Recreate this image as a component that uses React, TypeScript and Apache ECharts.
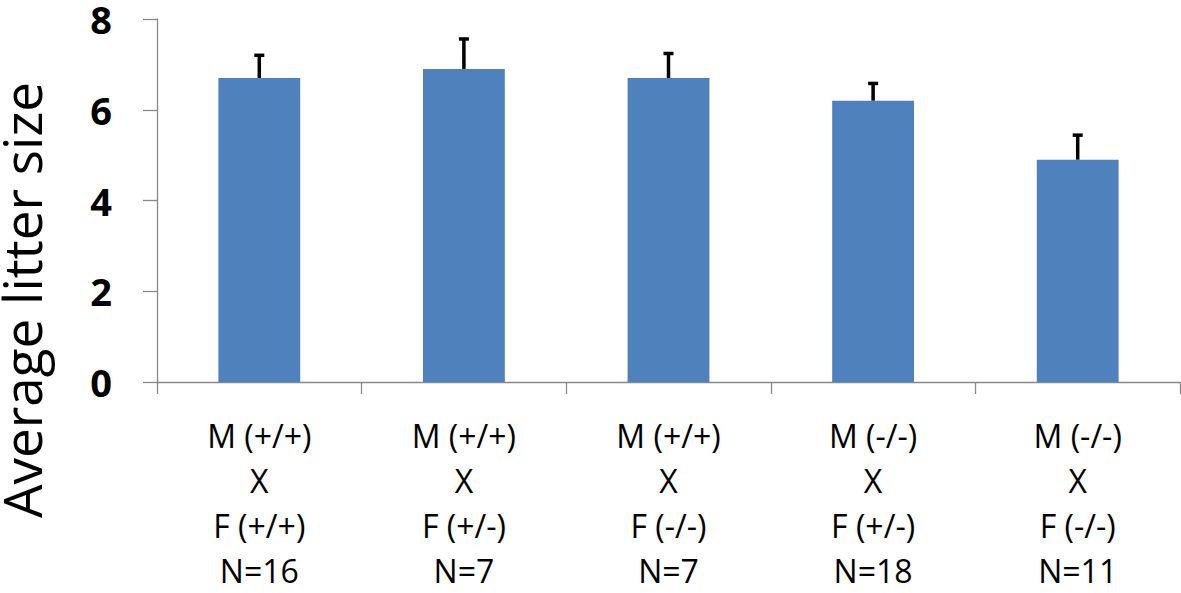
import React, { useEffect, useRef } from "react";
import * as echarts from "echarts";

const males = ["M (+/+)", "M (+/+)", "M (+/+)", "M (-/-)", "M (-/-)"];
const females = ["F (+/+)", "F (+/-)", "F (-/-)", "F (+/-)", "F (-/-)"];
const counts = [16, 7, 7, 18, 11];
const means = [6.7, 6.9, 6.7, 6.2, 4.9];
const errors = [0.5, 0.66, 0.54, 0.38, 0.54];
const yTicks = { min: 0, max: 8, interval: 2 };
const yTitle = "Average litter size";

const categories = males.map((m, i) => `${m}\nX\n${females[i]}\nN=${counts[i]}`);

export default function App() {
  const ref = useRef<HTMLDivElement>(null);
  useEffect(() => {
    if (!ref.current) return;
    const chart = echarts.init(ref.current, undefined, { renderer: "svg" });
    const axisColor = "#898989";
    chart.setOption({
      animation: false,
      grid: { left: 157, right: 1, top: 17, bottom: 205, containLabel: false },
      xAxis: {
        type: "category",
        data: categories,
        boundaryGap: true,
        axisLine: { show: true, lineStyle: { color: axisColor, width: 1.3 } },
        axisTick: { show: true, length: 12, alignWithLabel: false, lineStyle: { color: axisColor, width: 1.3 } },
        axisLabel: {
          interval: 0,
          margin: 31,
          color: "#000",
          fontFamily: "Open Sans",
          fontSize: 32,
          lineHeight: 45,
          align: "center",
        },
        splitLine: { show: false },
      },
      yAxis: {
        type: "value",
        min: yTicks.min,
        max: yTicks.max,
        interval: yTicks.interval,
        axisLine: { show: true, lineStyle: { color: axisColor, width: 1.3 } },
        axisTick: { show: true, length: 14, lineStyle: { color: axisColor, width: 1.3 } },
        axisLabel: {
          margin: 45,
          color: "#000",
          fontFamily: "Open Sans",
          fontWeight: "bold",
          fontSize: 38,
          lineHeight: 30,
        },
        splitLine: { show: false },
      },
      graphic: [
        {
          type: "text",
          x: 21,
          y: 300,
          rotation: Math.PI / 2,
          style: {
            text: yTitle,
            fontFamily: "Open Sans",
            fontSize: 53,
            lineHeight: 42,
            fill: "#000",
            align: "center",
            verticalAlign: "middle",
          },
        },
      ],
      series: [
        {
          type: "bar",
          data: means,
          barWidth: "40%",
          itemStyle: { color: "#4F81BD" },
          z: 2,
        },
        {
          type: "custom",
          z: 3,
          data: means.map((m, i) => [i, m, errors[i]]),
          encode: { x: 0, y: 1 },
          renderItem: (params: any, api: any) => {
            const idx = api.value(0);
            const mean = api.value(1);
            const err = api.value(2);
            const base = api.coord([idx, mean]);
            const top = api.coord([idx, mean + err]);
            return {
              type: "group",
              children: [
                {
                  type: "line",
                  shape: { x1: top[0], y1: base[1], x2: top[0], y2: top[1] },
                  style: { stroke: "#000", lineWidth: 3.5 },
                },
                {
                  type: "line",
                  shape: { x1: top[0] - 5, y1: top[1], x2: top[0] + 5, y2: top[1] },
                  style: { stroke: "#000", lineWidth: 3.5 },
                },
              ],
            };
          },
        },
      ],
    });
    return () => chart.dispose();
  }, []);
  return (
    <div
      ref={ref}
      style={{ position: "absolute", left: 0, top: 0, width: 1181, height: 593, background: "#fff" }}
    />
  );
}
